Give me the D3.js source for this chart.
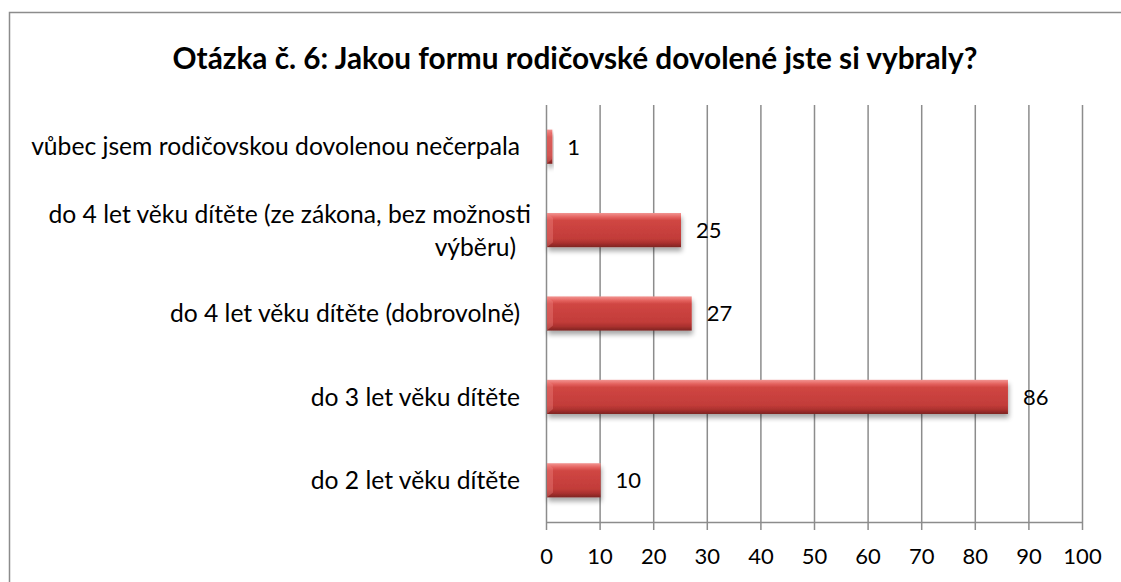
<!DOCTYPE html>
<html>
<head>
    <meta charset="utf-8">
    <title>Otázka č. 6</title>
    <script src="https://cdn.jsdelivr.net/npm/d3@7"></script>
    <style>
        html, body { margin: 0; padding: 0; background: #fff; overflow: hidden; }
        svg { display: block; }
        text { font-family: Lato, "Open Sans", sans-serif; fill: #000; }
    </style>
</head>
<body>
<svg id="chart" width="1121" height="582"></svg>
<script>
// data, top to bottom as in the chart
var categories = [
    "vůbec jsem rodičovskou dovolenou nečerpala",
    "do 4 let věku dítěte (ze zákona, bez možnosti|výběru)",
    "do 4 let věku dítěte (dobrovolně)",
    "do 3 let věku dítěte",
    "do 2 let věku dítěte"
];
var values = [1, 25, 27, 86, 10];
var ticks = [0, 10, 20, 30, 40, 50, 60, 70, 80, 90, 100];
var title = "Otázka č. 6: Jakou formu rodičovské dovolené jste si vybraly?";

var svg = d3.select("#chart");

// frame - only top and left edges are visible in the screenshot
svg.append("path")
   .attr("d", "M9.5,600V12.5H1130")
   .attr("fill", "none")
   .attr("stroke", "#8c8c8c")
   .attr("stroke-width", 1.5);

var defs = svg.append("defs");
var grad = defs.append("linearGradient")
    .attr("id", "barGrad").attr("x1", 0).attr("y1", 0).attr("x2", 0).attr("y2", 1);
grad.append("stop").attr("offset", "0%").attr("stop-color", "#f29592");
grad.append("stop").attr("offset", "12%").attr("stop-color", "#e4625f");
grad.append("stop").attr("offset", "22%").attr("stop-color", "#d04643");
grad.append("stop").attr("offset", "75%").attr("stop-color", "#c23c39");
grad.append("stop").attr("offset", "88%").attr("stop-color", "#a9302e");
grad.append("stop").attr("offset", "100%").attr("stop-color", "#7d2422");

var shadow = defs.append("filter").attr("id", "shadow")
    .attr("x", "-10%").attr("y", "-20%").attr("width", "130%").attr("height", "160%");
shadow.append("feGaussianBlur").attr("in", "SourceAlpha").attr("stdDeviation", 2.5);
shadow.append("feOffset").attr("dx", 1).attr("dy", 4).attr("result", "off");
shadow.append("feComponentTransfer").append("feFuncA").attr("type", "linear").attr("slope", 0.35);
var merge = shadow.append("feMerge");
merge.append("feMergeNode");
merge.append("feMergeNode").attr("in", "SourceGraphic");

var x = d3.scaleLinear().domain([0, 100]).range([546, 1082]);
var y = d3.scaleBand().domain(categories).range([105, 522]).paddingInner(0.59).paddingOuter(0.295);

// gridlines
svg.append("g")
   .selectAll("line")
   .data(ticks)
   .join("line")
   .attr("x1", d => x(d) + 0.5).attr("x2", d => x(d) + 0.5)
   .attr("y1", 105).attr("y2", 522)
   .attr("stroke", "#8c8c8c").attr("stroke-width", 1.5);

// x axis
var xAxis = svg.append("g")
   .attr("transform", "translate(0,522)")
   .call(d3.axisBottom(x).tickValues(ticks).tickSize(8).tickPadding(18));
xAxis.attr("font-size", null).attr("font-family", null);
xAxis.select(".domain").attr("stroke", "#8c8c8c").attr("stroke-width", 1.5).attr("d", "M546.5,0.5H1082.5");
xAxis.selectAll(".tick line").attr("stroke", "#8c8c8c").attr("stroke-width", 1.5);
xAxis.selectAll(".tick text").style("font-size", "22px").attr("fill", "#000");

// bars
svg.append("g")
   .selectAll("rect")
   .data(values)
   .join("rect")
   .attr("x", x(0) + 1)
   .attr("y", (d, i) => y(categories[i]))
   .attr("width", d => x(d) - x(0))
   .attr("height", y.bandwidth())
   .attr("fill", "url(#barGrad)")
   .attr("filter", "url(#shadow)");

// left bevel highlight
svg.append("g")
   .selectAll("path")
   .data(values)
   .join("path")
   .attr("d", (d, i) => {
       var x0 = x(0) + 1, y0 = y(categories[i]), h = y.bandwidth();
       var w = Math.min(6, x(d) - x(0));
       return "M" + x0 + "," + y0 + "L" + (x0 + w) + "," + (y0 + 5) + "L" + (x0 + w) + "," + (y0 + h - 5) + "L" + x0 + "," + (y0 + h) + "Z";
   })
   .attr("fill", "#f08a87").attr("opacity", 0.35);

// value labels
svg.append("g")
   .selectAll("text")
   .data(values)
   .join("text")
   .attr("x", d => x(d) + 16)
   .attr("y", (d, i) => y(categories[i]) + y.bandwidth() / 2)
   .attr("dy", "0.36em")
   .style("font-size", "22px")
   .text(d => d);

// category labels
var labels = svg.append("g")
   .selectAll("text")
   .data(categories)
   .join("text")
   .attr("text-anchor", "end")
   .attr("y", d => y(d) + y.bandwidth() / 2)
   .style("font-size", "18px");
labels.each(function(d) {
    var lines = d.split("|");
    var t = d3.select(this);
    lines.forEach(function(l, j) {
        t.append("tspan")
         .attr("x", j === 0 ? 531 : 516)
         .attr("dy", j === 0 ? (0.35 - (lines.length - 1) * 0.62) + "em" : "1.3em")
         .text(l);
    });
});
// single-line labels sit a bit further left than the wrapped one
labels.filter(d => d.indexOf("|") < 0).selectAll("tspan").attr("x", 520);

// fit label font size to reference width of the longest label (~489px)
var longest = labels.filter((d, i) => i === 0).node();
var w0 = longest.getComputedTextLength();
var fs = 18 * 489 / w0;
labels.style("font-size", fs + "px");

// title
var t = svg.append("text")
   .attr("x", 575)
   .attr("y", 59)
   .attr("dy", "0.35em")
   .attr("text-anchor", "middle")
   .style("font-size", "22px")
   .style("font-weight", "bold")
   .text(title);
var tw = t.node().getComputedTextLength();
t.style("font-size", (22 * 805 / tw) + "px");
</script>
</body>
</html>
